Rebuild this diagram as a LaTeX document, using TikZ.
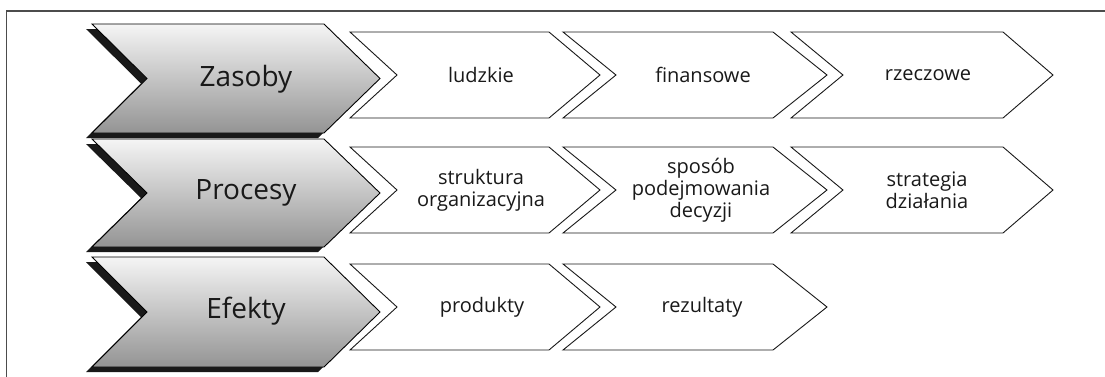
\documentclass[tikz,border=0pt]{standalone}
\usepackage{fontspec}
\setmainfont{Open Sans}
\newcommand{\mychev}[7][]{%
  \path[#1] (#2,#6) -- (#4,#6) -- (#5,{(#6+#7)/2}) -- (#4,#7) -- (#2,#7) -- (#3,{(#6+#7)/2}) -- cycle;}
\tikzset{
  frameline/.style={draw=black!70, line width=1.4pt},
  bigchev/.style={draw=black, line width=0.9pt, top color=black!4, bottom color=black!42},
  bigshadow/.style={fill=black!90, xshift=-6pt, yshift=-5pt},
  smallchev/.style={draw=black!90, line width=0.9pt, fill=white},
  bigtext/.style={font=\fontsize{28}{33}\selectfont, text=black!90, inner sep=0pt},
  smalltext/.style={font=\fontsize{20}{22}\selectfont, text=black!90, align=center, inner sep=0pt}
}
\begin{document}
\begin{tikzpicture}[x=1pt,y=-1pt]
\useasboundingbox (0,0) rectangle (1105,376);
\clip (0,0) rectangle (1105,376);
% frame
\draw[frameline] (6.5,390) -- (6.5,11) -- (1120,11);
% big chevrons: shadows then bodies
\mychev[bigshadow]{92}{147}{324}{380}{24}{133}
\mychev[bigchev]{92}{147}{324}{380}{24}{133}
\mychev[bigshadow]{92}{147}{324}{380}{139}{247}
\mychev[bigchev]{92}{147}{324}{380}{139}{247}
\mychev[bigshadow]{92}{147}{324}{380}{257}{367}
\mychev[bigchev]{92}{147}{324}{380}{257}{367}
\node[bigtext] (zasoby) at (246,79) {Zasoby};
\node[bigtext] (procesy) at (246,193) {Procesy};
\node[bigtext] (efekty) at (246,311) {Efekty};
% row 1
\mychev[smallchev]{350}{397}{549}{600}{32}{118}
\mychev[smallchev]{563}{616}{773}{827}{32}{118}
\mychev[smallchev]{791}{843}{1003}{1053}{32}{118}
\node[smalltext] (ludzkie) at (481,75) {ludzkie};
\node[smalltext] (finansowe) at (703,75) {finansowe};
\node[smalltext] (rzeczowe) at (928,75) {rzeczowe};
% row 2
\mychev[smallchev]{350}{397}{549}{600}{147}{233}
\mychev[smallchev]{563}{616}{773}{827}{147}{233}
\mychev[smallchev]{791}{843}{1003}{1053}{147}{233}
\node[smalltext] (struktura) at (481,190) {struktura\\organizacyjna};
\node[smalltext] (sposob) at (701,190) {sposób\\podejmowania\\decyzji};
\node[smalltext] (strategia) at (927,190) {strategia\\działania};
% row 3
\mychev[smallchev]{350}{397}{549}{600}{264}{350}
\mychev[smallchev]{563}{616}{773}{827}{264}{350}
\node[smalltext] (produkty) at (482,307) {produkty};
\node[smalltext] (rezultaty) at (702,307) {rezultaty};
\end{tikzpicture}
\end{document}
